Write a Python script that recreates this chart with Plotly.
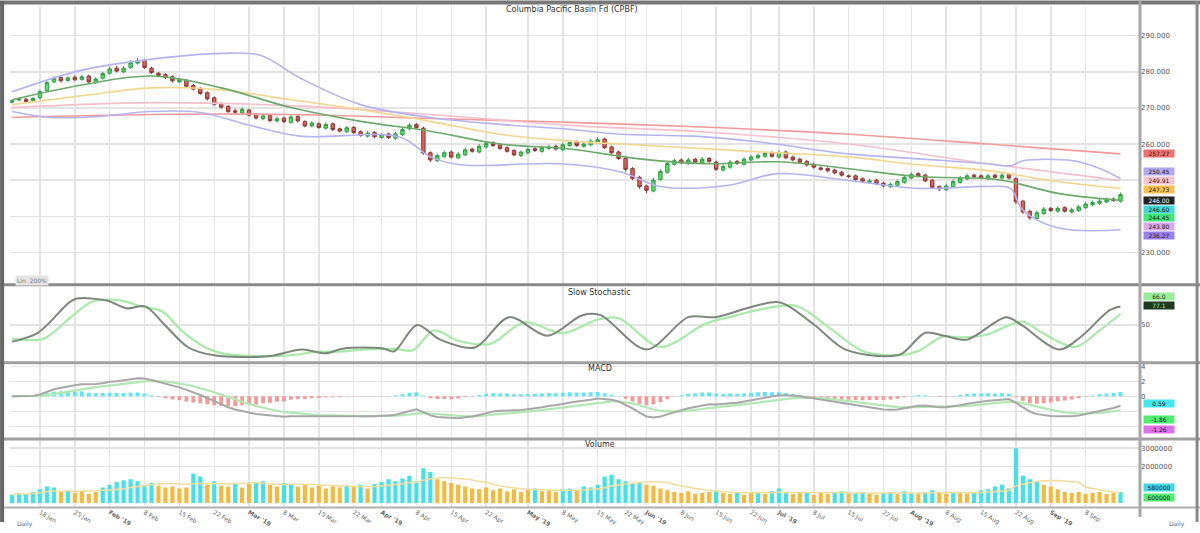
import numpy as np
import pandas as pd
import plotly.graph_objects as go

TITLE = "Columbia Pacific Basin Fd (CPBF)"

opens = [271.6, 272.2, 272.4, 272.0, 272.8, 274.8, 277.2, 278.4, 277.6, 278.5,
         277.9, 278.8, 277.0, 278.2, 279.6, 281.0, 280.0, 281.2, 282.4, 283.2,
         281.0, 279.6, 279.2, 278.6, 277.2, 277.6, 276.2, 275.4, 274.2, 272.8,
         271.2, 270.4, 269.2, 268.6, 269.4, 268.2, 267.0, 268.0, 266.4, 267.2,
         266.0, 267.6, 266.2, 265.0, 265.6, 264.4, 265.6, 264.2, 263.4, 264.6,
         263.4, 262.2, 263.2, 261.8, 262.8, 261.6, 262.6, 264.2, 265.4, 264.4,
         257.6, 255.4, 256.6, 257.8, 256.2, 257.0, 258.6, 257.8, 259.2, 260.4,
         259.8, 259.0, 258.2, 256.8, 257.6, 258.7, 258.0, 258.8, 259.4, 258.4,
         259.6, 260.6, 259.4, 259.8, 260.6, 261.4, 259.2, 257.8, 256.0, 253.2,
         250.8, 248.4, 247.0, 250.2, 252.2, 254.4, 255.6, 254.6, 255.8, 254.8,
         256.0, 255.0, 252.8, 253.6, 255.2, 254.4, 255.6, 256.2, 256.6, 257.6,
         256.4, 257.8, 256.4, 255.8, 255.2, 254.4, 253.4, 253.2, 252.8, 252.2,
         251.2, 251.2, 250.4, 249.4, 250.0, 249.2, 248.2, 248.6, 249.4, 250.6,
         251.8, 251.4, 250.0, 248.2, 247.4, 248.2, 249.4, 250.4, 251.4, 251.2,
         250.4, 251.4, 250.6, 251.6, 250.4, 244.2, 241.4, 239.4, 240.8, 242.2,
         241.4, 242.4, 241.2, 241.6, 242.4, 243.2, 243.6, 244.0, 244.8, 244.2]

closes = [272.0, 272.5, 271.8, 272.6, 274.5, 277.0, 278.2, 277.5, 278.3, 277.8,
          278.6, 277.2, 278.0, 279.5, 280.8, 280.2, 281.0, 282.6, 283.0, 281.2,
          279.8, 279.0, 278.4, 277.5, 277.8, 276.0, 275.2, 274.0, 272.5, 271.0,
          270.2, 269.0, 268.8, 269.6, 268.0, 267.2, 267.8, 266.5, 267.0, 266.2,
          267.5, 266.4, 265.0, 265.8, 264.6, 265.4, 264.0, 263.6, 264.5, 263.2,
          262.4, 263.0, 262.0, 262.6, 261.8, 262.8, 264.0, 265.2, 264.6, 257.5,
          255.6, 256.8, 257.6, 256.4, 257.2, 258.4, 258.0, 259.4, 260.2, 259.6,
          258.8, 258.0, 257.0, 257.8, 258.5, 258.2, 259.0, 259.2, 258.6, 259.8,
          260.4, 259.6, 260.0, 260.8, 261.2, 259.0, 257.6, 256.0, 253.0, 250.5,
          248.2, 247.2, 250.0, 252.4, 254.6, 255.4, 254.8, 255.6, 255.0, 255.8,
          255.2, 253.0, 253.8, 255.0, 254.6, 255.8, 256.4, 256.8, 257.4, 256.6,
          257.6, 256.2, 255.6, 255.0, 254.2, 253.6, 253.0, 252.6, 252.0, 251.4,
          251.0, 250.2, 249.6, 249.8, 249.0, 248.4, 248.8, 249.6, 250.8, 251.6,
          251.2, 249.8, 248.0, 247.6, 248.4, 249.6, 250.6, 251.2, 251.0, 250.6,
          251.2, 250.8, 251.4, 250.6, 244.0, 241.2, 239.6, 241.0, 242.0, 241.6,
          242.2, 241.4, 241.8, 242.6, 243.4, 243.8, 244.2, 244.6, 244.4, 246.0]

highs = [272.4, 273.0, 272.8, 273.0, 275.0, 277.6, 278.8, 279.0, 278.8, 279.0,
         279.2, 279.2, 278.5, 280.0, 281.4, 281.6, 281.6, 283.2, 283.8, 283.6,
         281.4, 280.0, 279.6, 279.0, 278.4, 278.0, 276.6, 275.8, 274.6, 273.2,
         271.6, 270.8, 269.8, 270.2, 269.8, 268.6, 268.4, 268.4, 267.6, 267.6,
         268.0, 268.0, 266.6, 266.4, 266.0, 266.0, 266.0, 264.6, 265.0, 265.0,
         263.8, 263.6, 263.6, 263.0, 263.2, 263.4, 264.6, 265.8, 265.8, 264.8,
         258.0, 257.4, 258.2, 258.2, 257.8, 259.0, 259.0, 260.0, 260.8, 260.8,
         260.2, 259.4, 258.6, 258.2, 259.0, 259.2, 259.6, 259.8, 259.8, 260.4,
         261.0, 261.0, 260.6, 261.4, 262.0, 261.8, 259.6, 258.2, 256.4, 253.6,
         251.2, 248.8, 250.6, 253.0, 255.2, 256.0, 256.0, 256.2, 256.2, 256.4,
         256.4, 255.4, 254.4, 255.6, 255.6, 256.4, 257.0, 257.4, 258.0, 258.0,
         258.2, 258.2, 256.8, 256.2, 255.6, 254.8, 253.8, 253.6, 253.2, 252.6,
         251.6, 251.6, 250.8, 250.4, 250.4, 249.6, 249.4, 250.2, 251.4, 252.2,
         252.2, 251.8, 250.4, 248.6, 249.0, 250.2, 251.2, 251.8, 251.8, 251.6,
         251.8, 251.8, 252.0, 252.0, 250.8, 244.6, 241.8, 241.6, 242.6, 242.6,
         242.8, 242.8, 242.4, 243.2, 244.0, 244.4, 244.8, 245.2, 245.2, 246.6]

lows = [271.2, 271.8, 271.4, 271.6, 272.4, 274.4, 276.8, 277.0, 277.2, 277.4,
        277.5, 276.8, 276.6, 277.8, 279.2, 279.8, 279.6, 280.8, 282.0, 280.8,
        279.4, 278.6, 278.0, 277.0, 276.8, 275.6, 274.8, 273.6, 272.0, 270.6,
        269.8, 268.6, 268.2, 268.2, 267.6, 266.8, 266.6, 266.0, 266.0, 265.8,
        265.6, 266.0, 264.6, 264.6, 264.2, 264.0, 263.6, 263.2, 263.0, 262.8,
        262.0, 261.8, 261.6, 261.4, 261.4, 261.2, 262.2, 263.8, 264.2, 257.0,
        255.0, 255.0, 256.2, 256.0, 255.8, 256.6, 257.6, 257.4, 258.8, 259.2,
        258.4, 257.6, 256.6, 256.4, 257.2, 257.8, 257.6, 258.4, 258.2, 258.0,
        259.2, 259.2, 259.0, 259.4, 260.2, 258.6, 257.2, 255.6, 252.4, 250.0,
        247.6, 246.4, 246.6, 249.8, 251.8, 254.0, 254.4, 254.2, 254.6, 254.4,
        254.8, 252.6, 252.4, 253.2, 254.2, 254.0, 255.2, 255.8, 256.2, 256.2,
        256.0, 255.8, 255.2, 254.6, 253.8, 253.2, 252.6, 252.2, 251.6, 251.0,
        250.6, 249.8, 249.2, 249.0, 248.6, 248.0, 247.8, 248.2, 249.0, 250.2,
        250.8, 249.4, 247.6, 247.0, 247.0, 247.8, 249.0, 250.0, 250.6, 250.2,
        250.0, 250.4, 250.2, 250.2, 243.4, 240.6, 239.0, 239.0, 240.4, 241.2,
        241.0, 241.0, 240.8, 241.2, 242.0, 242.8, 243.2, 243.6, 244.0, 243.8]

volumes = [450000, 550000, 500000, 600000, 750000, 900000, 850000, 600000, 700000, 550000,
           650000, 500000, 600000, 850000, 1000000, 1150000, 1250000, 1300000, 1200000, 1000000,
           1100000, 950000, 850000, 900000, 800000, 850000, 1600000, 1450000, 1000000, 1200000,
           950000, 900000, 1100000, 850000, 1050000, 1150000, 1200000, 1000000, 900000, 1100000,
           1050000, 900000, 1000000, 850000, 950000, 800000, 900000, 850000, 950000, 900000,
           1000000, 800000, 1050000, 1150000, 1300000, 1200000, 1350000, 1500000, 1200000, 1900000,
           1700000, 1300000, 1200000, 1100000, 1000000, 900000, 800000, 750000, 850000, 700000,
           800000, 650000, 750000, 600000, 700000, 800000, 650000, 700000, 600000, 750000,
           800000, 700000, 900000, 850000, 1000000, 1450000, 1550000, 1300000, 1200000, 1100000,
           1150000, 1000000, 950000, 800000, 700000, 600000, 550000, 650000, 500000, 550000,
           600000, 700000, 550000, 500000, 600000, 450000, 550000, 600000, 500000, 650000,
           800000, 600000, 500000, 550000, 600000, 450000, 550000, 500000, 600000, 650000,
           500000, 550000, 600000, 500000, 450000, 550000, 600000, 500000, 650000, 550000,
           500000, 600000, 700000, 550000, 500000, 600000, 550000, 500000, 600000, 700000,
           750000, 900000, 1000000, 800000, 3000000, 1500000, 1300000, 1200000, 1000000, 900000,
           750000, 600000, 550000, 600000, 500000, 550000, 600000, 500000, 550000, 600000]

days = list(range(len(closes)))

# overlay lines (day index, price)
ma200_i = [0, 20, 40, 60, 80, 100, 120, 140, 159]
ma200_v = [267.36, 268.18, 268.18, 267.09, 266.0, 264.64, 262.73, 260.0, 257.27]
ma100_i = [0, 20, 40, 60, 80, 100, 120, 140, 159]
ma100_v = [270.09, 271.45, 270.64, 268.18, 265.18, 263.27, 260.0, 254.55, 249.91]
ma50_i = [0, 10, 20, 30, 40, 50, 60, 70, 80, 90, 100, 110, 120, 130, 140, 150, 159]
ma50_v = [270.91, 273.36, 275.55, 275.0, 272.27, 269.55, 266.27, 262.73, 260.82, 259.73,
          258.64, 257.55, 256.45, 254.27, 252.64, 249.64, 247.73]
ma20_i = [0, 10, 20, 30, 40, 50, 60, 70, 80, 90, 100, 110, 120, 130, 140, 143, 150, 159]
ma20_v = [272.27, 276.36, 278.82, 275.55, 270.09, 266.27, 263.55, 260.0, 258.64, 255.91,
          254.55, 255.09, 253.18, 251.0, 250.45, 249.64, 246.36, 244.45]
bbu_i = [0, 10, 20, 30, 35.6, 41.3, 50, 60, 70, 80, 87.2, 97.7, 107.3, 120, 130, 140,
         143.2, 145, 152.2, 156.1, 159]
bbu_v = [274.45, 280.45, 283.5, 285.09, 284.55, 278.27, 270.91, 267.36, 265.45, 264.09,
         262.73, 262.18, 260.55, 257.27, 255.91, 254.55, 254.0, 255.36, 255.36, 253.18, 250.45]
bbl_i = [0, 5.5, 12.6, 19.8, 27, 34.1, 41.3, 55.7, 60, 64.3, 78.6, 87.2, 93, 102.6, 109.8,
         120, 130, 140, 143.2, 145, 150, 159]
bbl_v = [269.0, 267.36, 267.64, 269.0, 268.73, 265.18, 262.18, 261.91, 256.45, 254.27,
         254.55, 252.36, 248.27, 248.55, 251.82, 249.91, 247.73, 248.27, 247.73, 241.73,
         236.82, 236.27]

# slow stochastic (day index, value)
stk_i = [0, 3.7, 8.2, 9.3, 13.6, 16.4, 19.1, 21.9, 25.3, 29, 36.7, 41.6, 44.9, 47.6, 53.2,
         54.8, 58.1, 61.4, 66.4, 71.3, 76.8, 81.8, 84.4, 91, 97, 100.9, 106.3, 110.2, 115.1,
         119.5, 125.5, 127.7, 131, 133.7, 137, 142.6, 144.8, 150.2, 153.5, 157.4, 159]
stk_v = [25.7, 38.6, 82.9, 88.6, 85.7, 74.3, 77.1, 50, 17.1, 5.7, 4.3, 14.3, 8.6, 15.7, 15.7,
         11.4, 50, 28.6, 17.1, 61.4, 34.3, 64.3, 64.3, 14.3, 61.4, 61.4, 77.1, 82.9, 50,
         14.3, 4.3, 8.6, 38.6, 34.3, 28.6, 61.4, 50, 14.3, 34.3, 71.4, 77.1]
std_i = [0, 4.5, 8.5, 11.5, 15.5, 18.5, 21.5, 24.5, 28, 31, 39, 44, 47, 50, 55, 57.5, 60.5,
         64, 68.5, 73.5, 79, 84, 87, 93, 99.5, 103.5, 108.5, 112.5, 117.5, 122, 127.5, 130,
         133.5, 136, 139.5, 145, 147.5, 152.5, 156, 159]
std_v = [30, 30, 62, 84, 86, 77, 70, 40, 16, 7, 5, 11, 11, 14, 15, 13, 42, 27, 22, 54, 38,
         58, 60, 18, 52, 63, 75, 78, 44, 12, 6, 12, 33, 32, 35, 55, 40, 18, 42, 66]

# axis tick labels
tick_idx = [4, 9, 14, 19, 24, 29, 34, 39, 44, 49, 53, 58, 63, 68, 74, 79, 84, 88, 91, 96,
            101, 106, 110, 115, 120, 125, 129, 134, 139, 144, 149, 154]
tick_txt = ["18 Jan", "25 Jan", "<b>Feb '19</b>", "8 Feb", "15 Feb", "22 Feb",
            "<b>Mar '19</b>", "8 Mar", "15 Mar", "22 Mar", "<b>Apr '19</b>", "8 Apr",
            "15 Apr", "22 Apr", "<b>May '19</b>", "8 May", "15 May", "22 May",
            "<b>Jun '19</b>", "8 Jun", "15 Jun", "22 Jun", "<b>Jul '19</b>", "8 Jul",
            "15 Jul", "22 Jul", "<b>Aug '19</b>", "8 Aug", "15 Aug", "22 Aug",
            "<b>Sep '19</b>", "8 Sep"]
price_ticks = [230, 240, 250, 260, 270, 280, 290]
price_tick_txt = ["230.000", "", "", "260.000", "270.000", "280.000", "290.000"]
macd_ticks = [-4, -2, 0, 2, 4]
macd_tick_txt = ["", "", "0", "2", "4"]

# ---- indicators computed from the data ----
c = pd.Series(closes)
ema12 = c.ewm(span=12, adjust=False).mean()
ema26 = c.ewm(span=26, adjust=False).mean()
macd = ema12 - ema26
signal = macd.ewm(span=9, adjust=False).mean()
hist = macd - signal
vol_s = pd.Series(volumes)
vol_ma = vol_s.rolling(10, min_periods=1).mean()

FONT = "DejaVu Sans"
GRID = "#e4e4e4"

fig = go.Figure()

fig.add_trace(go.Candlestick(
    x=days, open=opens, high=highs, low=lows, close=closes,
    increasing=dict(line=dict(color="#2f9e45", width=1), fillcolor="#52e060"),
    decreasing=dict(line=dict(color="#8e3a34", width=1), fillcolor="#e65a5a"),
    whiskerwidth=0, xaxis="x", yaxis="y", showlegend=False))

def line(xs, ys, color, width, xa="x", ya="y", smooth=1.0):
    fig.add_trace(go.Scatter(x=xs, y=ys, mode="lines", xaxis=xa, yaxis=ya,
                             line=dict(color=color, width=width, shape="spline",
                                       smoothing=smooth),
                             showlegend=False, hoverinfo="skip"))

line(ma200_i, ma200_v, "#f29a9a", 1.6)
line(ma100_i, ma100_v, "#f6bfcc", 1.6)
line(ma50_i, ma50_v, "#f3d68c", 1.6)
line(bbu_i, bbu_v, "#b4b4f2", 1.6)
line(bbl_i, bbl_v, "#b4b4f2", 1.6)
line(ma20_i, ma20_v, "#6aaa6a", 1.6)

# stochastic
line(std_i, std_v, "#a8eaa8", 2.2, "x2", "y2", 0.9)
line(stk_i, stk_v, "#7c887c", 2.0, "x2", "y2", 0.9)

# MACD
fig.add_trace(go.Bar(x=days, y=hist, xaxis="x3", yaxis="y3",
                     marker=dict(color=["#5ae8f0" if h >= 0 else "#f39a9a" for h in hist],
                                 line=dict(width=0)),
                     width=0.55, showlegend=False, hoverinfo="skip"))
fig.add_trace(go.Scatter(x=days, y=signal, mode="lines", xaxis="x3", yaxis="y3",
                         line=dict(color="#b2e8b2", width=2.2), showlegend=False))
fig.add_trace(go.Scatter(x=days, y=macd, mode="lines", xaxis="x3", yaxis="y3",
                         line=dict(color="#a8a8a8", width=2.0), showlegend=False))

# Volume
fig.add_trace(go.Bar(x=days, y=volumes, xaxis="x4", yaxis="y4",
                     marker=dict(color=["#3fe3ea" if v >= m else "#f6b93c"
                                        for v, m in zip(volumes, vol_ma)],
                                 line=dict(width=0)),
                     width=0.6, showlegend=False, hoverinfo="skip"))
fig.add_trace(go.Scatter(x=days, y=vol_ma, mode="lines", xaxis="x4", yaxis="y4",
                         line=dict(color="#f4dc9a", width=1.5, shape="spline"),
                         showlegend=False, hoverinfo="skip"))

XR = [-0.3, 161.8]
xbase = dict(range=XR, tickvals=tick_idx, ticktext=tick_txt, showgrid=True,
             gridcolor=GRID, gridwidth=1.5, zeroline=False, showline=False,
             ticks="", showticklabels=False, fixedrange=True)
ybase = dict(side="right", showgrid=True, gridcolor=GRID, gridwidth=1.5, zeroline=False,
             ticks="", tickfont=dict(size=7, color="#555", family=FONT), showline=False,
             fixedrange=True)

fig.update_layout(
    width=1200, height=533,
    margin=dict(l=10, r=60, t=5, b=16),
    paper_bgcolor="white", plot_bgcolor="white",
    font=dict(family=FONT, size=7, color="#555"),
    bargap=0.2, showlegend=False, hovermode=False,
    xaxis=dict(xbase, anchor="y", rangeslider=dict(visible=False)),
    xaxis2=dict(xbase, anchor="y2", matches="x"),
    xaxis3=dict(xbase, anchor="y3", matches="x"),
    xaxis4=dict(xbase, anchor="y4", matches="x", showticklabels=True,
                tickfont=dict(size=6, color="#666", family=FONT)),
    yaxis=dict(ybase, domain=[0.4453, 1.0], range=[221.3, 298.2],
               tickvals=price_ticks, ticktext=price_tick_txt),
    yaxis2=dict(ybase, domain=[0.291, 0.4395], range=[-2.9, 105.7], tickvals=[50]),
    yaxis3=dict(ybase, domain=[0.1387, 0.2852], range=[-5.5, 4.3],
                tickvals=macd_ticks, ticktext=macd_tick_txt),
    yaxis4=dict(ybase, domain=[0.0, 0.1328], range=[-213900, 3422500],
                tickvals=[2000000, 3000000], tickformat="d"),
)

# value boxes on the right
def box(text, y, yref, bg, fg="#222"):
    fig.add_annotation(x=1.0, xref="paper", y=y, yref=yref, text=text, showarrow=False,
                       xanchor="left", xshift=3, yanchor="middle",
                       font=dict(size=6, color=fg, family=FONT), bgcolor=bg,
                       width=30, height=7, borderpad=0)

box(f"{ma200_v[-1]:.2f}", 257.27, "y", "#f07070")
box(f"{bbu_v[-1]:.2f}", 252.36, "y", "#b0a8f0")
box(f"{ma100_v[-1]:.2f}", 249.91, "y", "#f5c4d2")
box(f"{ma50_v[-1]:.2f}", 247.45, "y", "#f5c050")
box(f"{closes[-1]:.2f}", 244.45, "y", "#222222", "#ffffff")
box(f"{highs[-1]:.2f}", 242.0, "y", "#40d8d8")
box(f"{ma20_v[-1]:.2f}", 239.55, "y", "#3fe87a")
box(f"{lows[-1]:.2f}", 237.09, "y", "#d8a8f0")
box(f"{bbl_v[-1]:.2f}", 234.64, "y", "#9a80ee")

box(f"{std_v[-1]:.1f}", 91.4, "y2", "#98ee98")
box(f"{stk_v[-1]:.1f}", 79.0, "y2", "#1f3a1f", "#9af09a")

box(f"{hist.iloc[-1]:.2f}", -0.93, "y3", "#46e6f0")
box(f"{signal.iloc[-1]:.2f}", -3.15, "y3", "#50ee70")
box(f"{macd.iloc[-1]:.2f}", -4.45, "y3", "#e070e8")

box(f"{vol_ma.iloc[-1]:.0f}", 856000, "y4", "#46d8e6")
box(f"{volumes[-1]:.0f}", 321000, "y4", "#50ee70")

# titles
def label(text, x, y, size=8, color="#333", bg=None):
    fig.add_annotation(x=x, y=y, xref="paper", yref="paper", text=text, showarrow=False,
                       font=dict(size=size, color=color, family=FONT),
                       bgcolor=bg, xanchor="center", yanchor="middle")

label(TITLE, 0.497, 0.993)
label("Slow Stochastic", 0.522, 0.428)
label("MACD", 0.522, 0.277)
label("Volume", 0.522, 0.125)
fig.add_annotation(x=0.004, y=0.452, xref="paper", yref="paper", text="Lin  200%",
                   showarrow=False, xanchor="left", font=dict(size=6, color="#777", family=FONT),
                   bgcolor="#e4e4e4")
fig.add_annotation(x=0.004, y=-0.022, xref="paper", yref="paper", text="Daily",
                   showarrow=False, xanchor="left", yanchor="top",
                   font=dict(size=6, color="#666", family=FONT))
fig.add_annotation(x=1.042, y=-0.022, xref="paper", yref="paper", text="Daily",
                   showarrow=False, xanchor="right", yanchor="top",
                   font=dict(size=6, color="#666", family=FONT))

# frame lines
PX0 = -10 / 1130
PX1 = 1190 / 1130
shapes = []
for yy, w, col in [(0.4434, 3, "#8a8a8a"), (0.2881, 3, "#a0a0a0"), (0.1357, 3, "#a0a0a0"),
                   (1.0068, 4, "#777777"), (-0.001, 2, "#b0b0b0")]:
    shapes.append(dict(type="line", xref="paper", yref="paper", x0=PX0, x1=PX1, y0=yy, y1=yy,
                       line=dict(color=col, width=w)))
shapes.append(dict(type="line", xref="paper", yref="paper", x0=1.0, x1=1.0, y0=-0.02, y1=1.01,
                   line=dict(color="#a8a8a8", width=3)))
shapes.append(dict(type="line", xref="paper", yref="paper", x0=-0.007, x1=-0.007, y0=-0.03,
                   y1=1.01, line=dict(color="#666666", width=4)))
shapes.append(dict(type="line", xref="paper", yref="paper", x0=1.0505, x1=1.0505, y0=-0.03,
                   y1=1.01, line=dict(color="#888888", width=3)))
fig.update_layout(shapes=shapes)

fig.write_html("out.html", config={"displayModeBar": False, "staticPlot": True},
               post_script="document.body.style.margin='0px';document.body.style.overflow='hidden';")
